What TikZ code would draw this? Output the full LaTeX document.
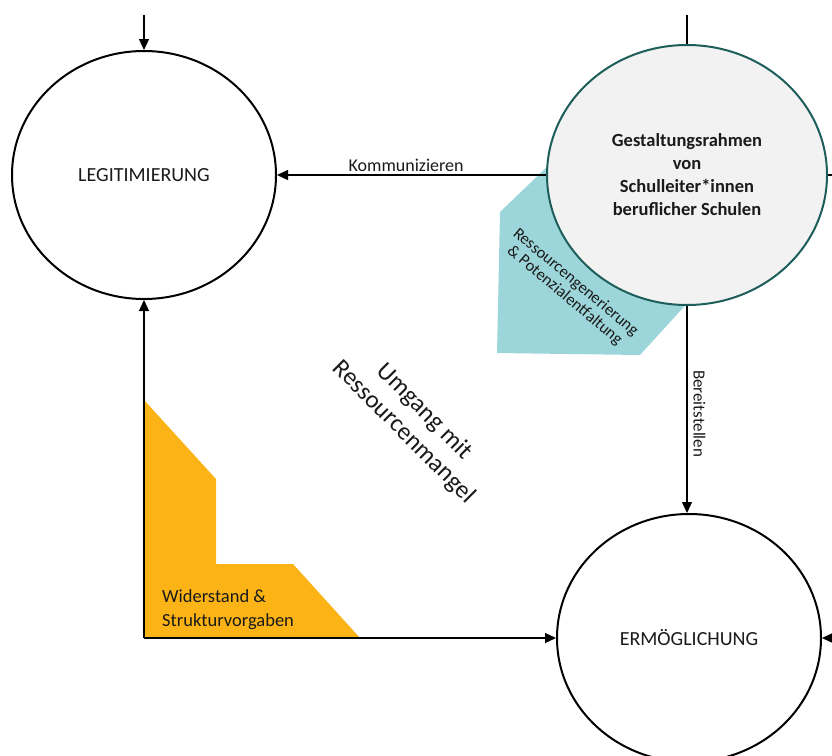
\documentclass[tikz,border=0pt]{standalone}
\usepackage{fontspec}
\setmainfont{Carlito}
\usetikzlibrary{shapes.geometric,arrows.meta}
\definecolor{tealfill}{HTML}{9DD6DA}
\definecolor{orangefill}{HTML}{FBB316}
\definecolor{tealline}{HTML}{1D5E5A}
\definecolor{circfill}{HTML}{F2F2F2}
\definecolor{txt}{HTML}{1A1A1A}
\tikzset{
  stage/.style={ellipse, draw=black, line width=2pt, fill=white,
    minimum width=264pt, minimum height=248pt, inner sep=0pt,
    font=\fontsize{20}{24}\selectfont, text=txt},
  frame/.style={ellipse, draw=tealline, line width=2pt, fill=circfill,
    minimum width=280pt, minimum height=260pt, inner sep=0pt, align=center,
    font=\bfseries\fontsize{18.5}{23}\selectfont, text=txt},
  conn/.style={line width=1.2pt, draw=black},
  arr/.style={conn, -{Triangle[length=11pt,width=10pt]}},
  lbl/.style={font=\fontsize{18}{20}\selectfont, text=txt, inner sep=1pt}
}
\begin{document}
\begin{tikzpicture}[x=1pt,y=-1pt]
\useasboundingbox (0,0) rectangle (832,755);

% coloured areas behind the circles
\fill[tealfill] (500,212) -- (548,166) -- (692,298) -- (640,355) -- (497,353) -- cycle;
\fill[orangefill] (144,400) -- (216,479) -- (216,564) -- (293,564) -- (360,638) -- (144,638) -- cycle;

% the three fields
\node[stage] (legit) at (144,175) {LEGITIMIERUNG};
\node[frame] (gest) at (687,175) {Gestaltungsrahmen\\von\\Schulleiter*innen\\beruflicher Schulen};
\node[stage] (ermo) at (689,638) {ERMÖGLICHUNG};

% free ends at the page border
\coordinate (legitIn) at (144,15);
\coordinate (gestIn) at (687,15);
\coordinate (gestOut) at (834,175);
\coordinate (ermoIn) at (834,638);
\coordinate (corner) at (144,638);

% connectors
\draw[arr] (legitIn) -- (legit.north);
\draw[conn] (gestIn) -- (gest.north);
\draw[conn] (gest.east) -- (gestOut);
\draw[arr] (gest.west) -- node[lbl, above, inner sep=3pt, pos=0.52] {Kommunizieren} (legit.east);
\draw[arr] (gest.south) -- node[lbl, rotate=-90, anchor=south, inner ysep=6pt, pos=0.52, font=\fontsize{17}{19}\selectfont] {Bereitstellen} (gest.south |- ermo.north);
\draw[arr] (corner) -- (legit.south);
\draw[arr] (corner) -- (ermo.west);
\draw[arr] (ermoIn) -- (ermo.east);

% labels of the coloured areas
\node[lbl, rotate=-40, align=center, font=\fontsize{16.5}{17}\selectfont] (res) at (570,289)
  {Ressourcengenerierung\\\& Potenzialentfaltung};
\node[lbl, align=left, anchor=north west, font=\fontsize{18.5}{24}\selectfont] (wid) at (161,588)
  {Widerstand \&\\Strukturvorgaben};
\node[lbl, rotate=-45, align=center, font=\fontsize{25}{29}\selectfont] (umg) at (414,422)
  {Umgang mit\\Ressourcenmangel};
\end{tikzpicture}
\end{document}
